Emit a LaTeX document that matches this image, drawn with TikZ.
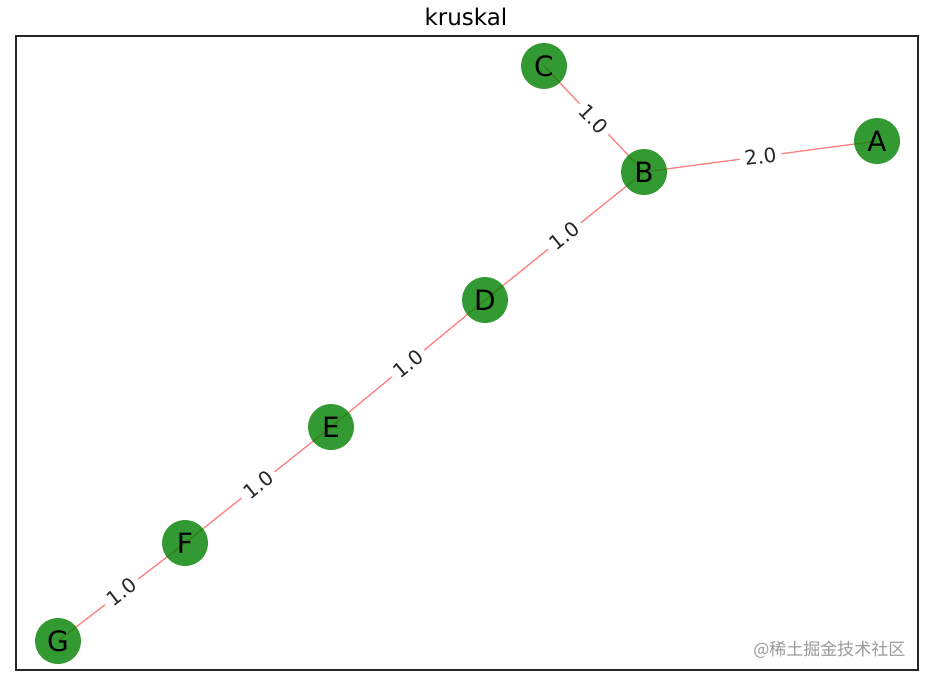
\documentclass[tikz,border=0pt]{standalone}
\usepackage{fontspec}
\setmainfont{DejaVu Sans}
\newfontfamily\cjk{Noto Sans CJK SC}
\usetikzlibrary{backgrounds}
\definecolor{nodegreen}{RGB}{0,128,0}
\definecolor{edgered}{RGB}{255,128,128}
\begin{document}
\begin{tikzpicture}[x=1pt,y=-1pt,
  vert/.style={circle, minimum size=46pt, inner sep=0pt, fill=nodegreen, fill opacity=0.8, text opacity=1, text=black, font=\fontsize{28}{28}\selectfont},
  edge/.style={draw=edgered, line width=1.3pt},
  lbl/.style={fill=white, inner xsep=5pt, inner ysep=3pt, rounded corners=3pt, text=black!85, font=\fontsize{20}{20}\selectfont, sloped}]
\useasboundingbox (0,0) rectangle (930,680);
\node[font=\fontsize{23}{23}\selectfont] (title) at (466,17) {kruskal};
\draw[line width=1.5pt, black!85] (16,36) rectangle (918,670);
\node[vert] (C) at (544,66) {C};
\node[vert] (B) at (644,172) {B};
\node[vert] (A) at (877,141) {A};
\node[vert] (D) at (485,300) {D};
\node[vert] (E) at (331,427) {E};
\node[vert] (F) at (185,543) {F};
\node[vert] (G) at (58,641) {G};
\begin{scope}[on background layer]
\fill[white] (0,0) rectangle (930,680);
\path[edge] (C.center) -- node[lbl] {1.0} (B.center);
\path[edge] (B.center) -- node[lbl] {2.0} (A.center);
\path[edge] (D.center) -- node[lbl] {1.0} (B.center);
\path[edge] (E.center) -- node[lbl] {1.0} (D.center);
\path[edge] (F.center) -- node[lbl] {1.0} (E.center);
\path[edge] (G.center) -- node[lbl] {1.0} (F.center);
\end{scope}
\node[anchor=east, text=black!40, font=\cjk\fontsize{17}{17}\selectfont] (wm) at (909,650) {@稀土掘金技术社区};
\end{tikzpicture}
\end{document}
